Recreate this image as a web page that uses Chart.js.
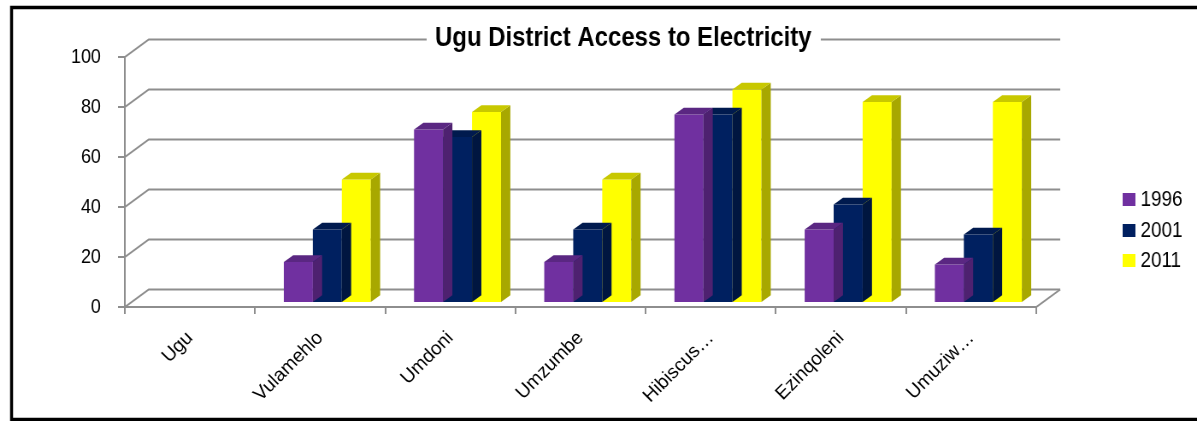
<!DOCTYPE html>
<html>
<head>
<meta charset="utf-8">
<script src="https://cdn.jsdelivr.net/npm/chart.js@4.4.1/dist/chart.umd.min.js"></script>
<style>
  html, body { margin: 0; padding: 0; background: #fff; overflow: hidden; }
  /* the chart is drawn 1400 wide and shown squeezed to 1197 */
  #chart { display: block; width: 1197px; height: 421px; }
</style>
</head>
<body>
<canvas id="chart" width="1400" height="421" style="width:1197px;height:421px"></canvas>
<script>
// Data
const categories = ['Ugu', 'Vulamehlo', 'Umdoni', 'Umzumbe', 'Hibiscus\u2026', 'Ezinqoleni', 'Umuziw\u2026'];
const years = ['1996', '2001', '2011'];
const values1996 = [null, 16, 69, 16, 75, 29, 15];
const values2001 = [null, 29, 66, 29, 75, 39, 27];
const values2011 = [null, 49, 76, 49, 85, 80, 80];
const yTicks = [0, 20, 40, 60, 80, 100];
const chartTitle = 'Ugu District Access to Electricity';

// Colours (front, top, side)
const colors = [
    { front: '#7030A0', top: '#5A2782', side: '#4E2170' },
    { front: '#002060', top: '#001A4E', side: '#001640' },
    { front: '#FFFF00', top: '#C8C800', side: '#A8A800' }
];

// 3D look: depth of the floor, where the bars sit, how deep a bar is
const depth = { x: 28, y: -17.5 };
const barShift = { x: 8.4, y: -5 };
const barDepth = { x: 10.9, y: -6.8 };
const gridColor = '#8E8E8E';
const font = "'Liberation Sans', Arial, sans-serif";
const squeeze = 1197 / 1400;

const box3d = {
    id: 'box3d',
    beforeDraw(chart) {
        const ctx = chart.ctx;
        ctx.save();
        ctx.fillStyle = '#fff';
        ctx.fillRect(0, 0, chart.width, chart.height);
        // outer frame
        ctx.strokeStyle = '#000';
        ctx.lineWidth = 3.5;
        ctx.strokeRect(13.5, 7.5, 1500, 412);
        ctx.restore();
    },
    beforeDatasetsDraw(chart) {
        const ctx = chart.ctx;
        const { left, right, top, bottom } = chart.chartArea;
        const y = chart.scales.y;
        const x = chart.scales.x;
        ctx.save();
        ctx.strokeStyle = gridColor;
        ctx.lineWidth = 2;
        // back wall grid + side wall diagonals
        yTicks.forEach(v => {
            const py = y.getPixelForValue(v);
            ctx.beginPath();
            ctx.moveTo(left - 8, py);
            ctx.lineTo(left, py);
            ctx.lineTo(left + depth.x, py + depth.y);
            ctx.lineTo(right + depth.x, py + depth.y);
            ctx.stroke();
        });
        // value axis
        ctx.beginPath();
        ctx.moveTo(left, top);
        ctx.lineTo(left, bottom);
        ctx.stroke();
        // floor front edge
        ctx.beginPath();
        ctx.moveTo(left, bottom);
        ctx.lineTo(right, bottom);
        ctx.lineTo(right + depth.x, bottom + depth.y);
        ctx.stroke();
        // category tick marks
        const step = (right - left) / categories.length;
        for (let i = 0; i <= categories.length; i++) {
            const px = Math.round(left + i * step);
            ctx.beginPath();
            ctx.moveTo(px, bottom);
            ctx.lineTo(px, bottom + 7);
            ctx.stroke();
        }
        // category labels, turned 45deg (undo the squeeze so they stay upright)
        ctx.fillStyle = '#000';
        ctx.font = '19px ' + font;
        ctx.textAlign = 'right';
        ctx.textBaseline = 'middle';
        categories.forEach((name, i) => {
            ctx.save();
            ctx.translate(x.getPixelForValue(i), bottom + 28);
            ctx.scale(1 / squeeze, 1);
            ctx.rotate(-Math.PI / 4);
            ctx.fillText(name, 0, 0);
            ctx.restore();
        });
        ctx.restore();
    },
    beforeDatasetDraw(chart) {
        chart.ctx.save();
        chart.ctx.translate(barShift.x, barShift.y);
    },
    afterDatasetDraw(chart, args) {
        const ctx = chart.ctx;
        const c = colors[args.index];
        args.meta.data.forEach((bar, i) => {
            if (chart.data.datasets[args.index].data[i] == null) return;
            const x0 = bar.x - bar.width / 2;
            const x1 = bar.x + bar.width / 2;
            const t = bar.y;
            const b = bar.base;
            // right side
            ctx.fillStyle = c.side;
            ctx.beginPath();
            ctx.moveTo(x1, t);
            ctx.lineTo(x1 + barDepth.x, t + barDepth.y);
            ctx.lineTo(x1 + barDepth.x, b + barDepth.y);
            ctx.lineTo(x1, b);
            ctx.closePath();
            ctx.fill();
            // top
            ctx.fillStyle = c.top;
            ctx.beginPath();
            ctx.moveTo(x0, t);
            ctx.lineTo(x0 + barDepth.x, t + barDepth.y);
            ctx.lineTo(x1 + barDepth.x, t + barDepth.y);
            ctx.lineTo(x1, t);
            ctx.closePath();
            ctx.fill();
        });
        ctx.restore();
    },
    afterDraw(chart) {
        const ctx = chart.ctx;
        const y = chart.scales.y;
        ctx.save();
        // title sits on the top grid line
        const ty = y.getPixelForValue(100) + depth.y;
        ctx.fillStyle = '#fff';
        ctx.fillRect(499, ty - 16, 461, 32);
        ctx.fillStyle = '#000';
        ctx.font = 'bold 28px ' + font;
        ctx.textAlign = 'center';
        ctx.textBaseline = 'alphabetic';
        ctx.fillText(chartTitle, 729, 46);
        // legend
        ctx.font = '22px ' + font;
        ctx.textAlign = 'left';
        ctx.textBaseline = 'middle';
        const rows = [199, 230, 260];
        years.forEach((yr, i) => {
            ctx.fillStyle = colors[i].front;
            ctx.fillRect(1313, rows[i] - 6, 15, 13);
            ctx.fillStyle = '#000';
            ctx.fillText(yr, 1334, rows[i] + 1);
        });
        ctx.restore();
    }
};

new Chart(document.getElementById('chart'), {
    type: 'bar',
    data: {
        labels: categories,
        datasets: [
            { label: years[0], data: values1996, backgroundColor: colors[0].front },
            { label: years[1], data: values2001, backgroundColor: colors[1].front },
            { label: years[2], data: values2011, backgroundColor: colors[2].front }
        ]
    },
    options: {
        responsive: false,
        animation: false,
        events: [],
        categoryPercentage: 0.668,
        barPercentage: 1,
        layout: { padding: { left: 0, top: 57, right: 188, bottom: 0 } },
        plugins: {
            legend: { display: false },
            title: { display: false },
            tooltip: { enabled: false }
        },
        scales: {
            x: {
                grid: { display: false, drawTicks: false },
                border: { display: false },
                ticks: { display: false },
                afterFit(scale) { scale.height = 114; }
            },
            y: {
                min: 0,
                max: 100,
                grid: { display: false, drawTicks: false },
                border: { display: false },
                ticks: {
                    stepSize: 20,
                    padding: 28,
                    color: '#000',
                    font: { family: font, size: 21 }
                },
                afterFit(scale) { scale.width = 146; }
            }
        }
    },
    plugins: [box3d]
});
</script>
</body>
</html>
